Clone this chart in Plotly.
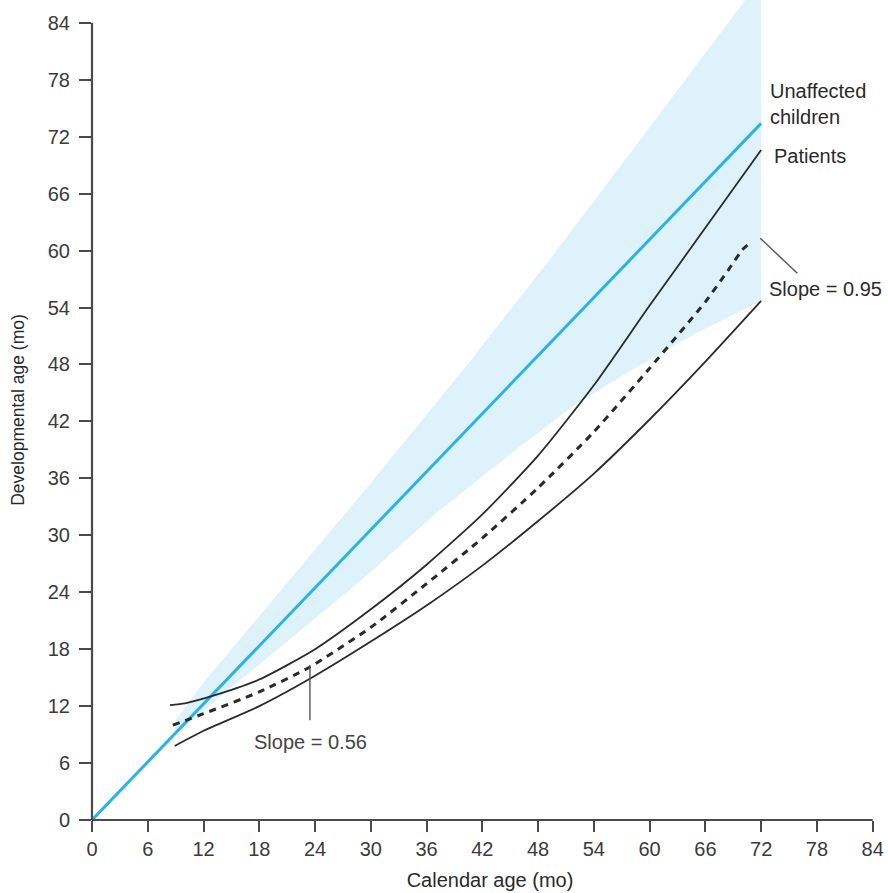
import plotly.graph_objects as go

# Axis ticks (months)
x_ticks = [0, 6, 12, 18, 24, 30, 36, 42, 48, 54, 60, 66, 72, 78, 84]
y_ticks = [0, 6, 12, 18, 24, 30, 36, 42, 48, 54, 60, 66, 72, 78, 84]

# Unaffected children: reference line and normal range band
unaffected_x = [0, 72]
unaffected_y = [0, 73.4]

band_upper_x = [9, 12, 20, 30, 40, 50, 60, 70, 72]
band_upper_y = [10.5, 14.5, 23.8, 35.5, 47.5, 60.0, 73.0, 86.0, 89.0]
band_lower_x = [9, 15, 20, 29, 37, 46, 52, 58.6, 65, 72]
band_lower_y = [9.0, 14.0, 18.0, 25.3, 32.3, 39.3, 43.8, 47.7, 51.3, 54.7]

# Patients: upper and lower bounds and mean trajectory
pat_upper_x = [8.4, 10, 12.7, 18, 24, 30, 36, 42, 48, 54, 60, 66, 72]
pat_upper_y = [12.1, 12.3, 13.0, 14.8, 18.0, 22.2, 26.9, 32.2, 38.4, 45.8, 54.2, 62.4, 70.6]

pat_lower_x = [8.9, 12, 18, 24, 30, 36, 42, 48, 54, 60, 66, 72]
pat_lower_y = [7.8, 9.4, 12.0, 15.2, 18.8, 22.6, 26.8, 31.5, 36.5, 42.2, 48.3, 54.7]

pat_mean_x = [8.7, 12, 18, 23.4, 30, 36, 42, 48, 54, 60, 66, 68.5, 70.0, 70.8]
pat_mean_y = [10.0, 11.2, 13.5, 16.1, 20.3, 24.9, 29.7, 35.0, 40.9, 47.6, 54.6, 58.0, 60.1, 60.8]

# Leader lines for the slope labels
lead_056_x = [23.45, 23.45]
lead_056_y = [16.3, 10.5]
lead_095_x = [71.9, 75.9]
lead_095_y = [61.3, 57.6]

XMAX = 85.65
YMAX = 86.4
FONT = "Arial, Liberation Sans, Helvetica, sans-serif"
INK = "#2a2a2a"
AXIS = "#4a4a4a"
CYAN = "#2cb4e0"
BAND = "rgb(221,242,251)"

fig = go.Figure()

# normal range band (closed polygon: upper edge then lower edge reversed)
fig.add_trace(go.Scatter(
    x=band_upper_x + band_lower_x[::-1],
    y=band_upper_y + band_lower_y[::-1],
    fill="toself", fillcolor=BAND, mode="none", hoverinfo="skip",
    showlegend=False,
))

fig.add_trace(go.Scatter(
    x=unaffected_x, y=unaffected_y, mode="lines",
    line=dict(color=CYAN, width=3), showlegend=False,
))

for xs, ys in [(pat_upper_x, pat_upper_y), (pat_lower_x, pat_lower_y)]:
    fig.add_trace(go.Scatter(
        x=xs, y=ys, mode="lines",
        line=dict(color=INK, width=1.8, shape="spline", smoothing=0.6),
        showlegend=False,
    ))

fig.add_trace(go.Scatter(
    x=pat_mean_x, y=pat_mean_y, mode="lines",
    line=dict(color=INK, width=3, dash="7px,6px", shape="spline", smoothing=0.6),
    showlegend=False,
))

for xs, ys in [(lead_056_x, lead_056_y), (lead_095_x, lead_095_y)]:
    fig.add_trace(go.Scatter(
        x=xs, y=ys, mode="lines",
        line=dict(color="#555555", width=1.4), showlegend=False,
    ))

# axis lines, stopping at the 84-month tick
fig.add_shape(type="line", xref="paper", yref="paper",
              x0=0, x1=0, y0=0, y1=84 / YMAX,
              line=dict(color=AXIS, width=2.2))
fig.add_shape(type="line", xref="paper", yref="paper",
              x0=0, x1=84 / XMAX, y0=0, y1=0,
              line=dict(color=AXIS, width=2.2))

label_font = dict(family=FONT, size=20, color=INK)
fig.add_annotation(x=72.7, y=75.4, xref="x", yref="y", text="Unaffected<br>children",
                   showarrow=False, xanchor="left", yanchor="middle", align="left",
                   font=label_font)
fig.add_annotation(x=73.2, y=70.0, xref="x", yref="y", text="Patients",
                   showarrow=False, xanchor="left", yanchor="middle", font=label_font)
fig.add_annotation(x=72.6, y=56.0, xref="x", yref="y", text="Slope = 0.95",
                   showarrow=False, xanchor="left", yanchor="middle", font=label_font)
fig.add_annotation(x=17.2, y=8.2, xref="x", yref="y", text="Slope = 0.56",
                   showarrow=False, xanchor="left", yanchor="middle",
                   font=dict(family=FONT, size=20, color="#444444"))

tick_font = dict(family=FONT, size=20, color="#3a3a3a")
fig.update_xaxes(
    range=[0, XMAX], tickvals=x_ticks, ticktext=[str(v) for v in x_ticks],
    showgrid=False, zeroline=False, showline=False,
    ticks="outside", ticklen=11, tickwidth=2, tickcolor=AXIS,
    tickfont=tick_font,
    title=dict(text="Calendar age (mo)", font=dict(family=FONT, size=20, color=INK), standoff=13),
)
fig.update_yaxes(
    range=[0, YMAX], tickvals=y_ticks, ticktext=[str(v) for v in y_ticks],
    showgrid=False, zeroline=False, showline=False,
    ticks="outside", ticklen=12, tickwidth=2, tickcolor=AXIS,
    tickfont=tick_font, ticklabelstandoff=5,
    title=dict(text="Developmental age (mo)", font=dict(family=FONT, size=17.5, color=INK), standoff=18),
)

fig.update_layout(
    width=888, height=893,
    margin=dict(l=92, r=0, t=0, b=73),
    paper_bgcolor="white", plot_bgcolor="white",
    showlegend=False,
)

fig.write_html("out.html")
